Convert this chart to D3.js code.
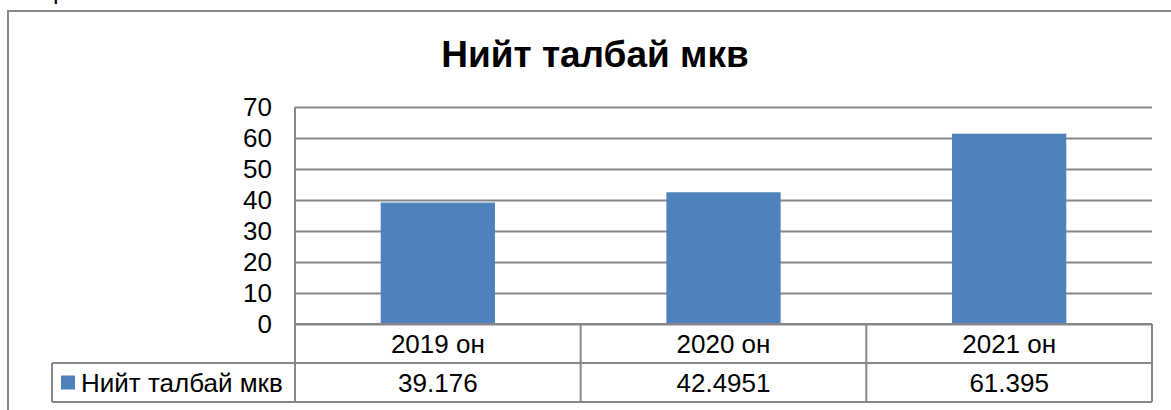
<!DOCTYPE html>
<html>
<head>
<meta charset="utf-8">
<script src="https://cdn.jsdelivr.net/npm/d3@7"></script>
<style>
  body { margin: 0; background: #fff; }
  svg { display: block; font-family: "Liberation Sans", Arial, sans-serif; }
</style>
</head>
<body>
<div id="chart"></div>
<script>
// chart data
const categories = ["2019 он", "2020 он", "2021 он"];
const values = [39.176, 42.4951, 61.395];
const valueLabels = ["39.176", "42.4951", "61.395"];
const seriesName = "Нийт талбай мкв";
const chartTitle = "Нийт талбай мкв";
const yTicks = [0, 10, 20, 30, 40, 50, 60, 70];

const width = 1171, height = 410;
const lineColor = "#878787";
const barColor = "#4F81BD";
const fontSize = "26px";

const plot = { left: 295, right: 1152, top: 107, bottom: 324 };
const rowH = 39;
const legendLeft = 52;

const svg = d3.select("#chart").append("svg")
  .attr("width", width)
  .attr("height", height);

// stray glyph from the text above the chart
svg.append("text")
  .attr("x", 53)
  .attr("y", -1)
  .style("font-size", "25px")
  .text("р");

// outer chart frame (runs off the page on the right and bottom)
svg.append("rect")
  .attr("x", 8)
  .attr("y", 11)
  .attr("width", 1200)
  .attr("height", 450)
  .attr("fill", "none")
  .attr("stroke", lineColor)
  .attr("stroke-width", 2);

svg.append("text")
  .attr("x", 595)
  .attr("y", 67)
  .attr("text-anchor", "middle")
  .style("font-size", "37px")
  .style("font-weight", "bold")
  .text(chartTitle);

const x = d3.scaleBand()
  .domain(categories)
  .range([plot.left, plot.right])
  .paddingInner(0.6)
  .paddingOuter(0.3);

const y = d3.scaleLinear()
  .domain([0, 70])
  .range([plot.bottom, plot.top]);

const yAxis = svg.append("g")
  .attr("transform", `translate(${plot.left},0)`)
  .call(d3.axisLeft(y)
    .tickValues(yTicks)
    .tickSize(-(plot.right - plot.left))
    .tickPadding(23)
    .tickFormat(d3.format("d")));

yAxis.select(".domain").remove();
yAxis.selectAll(".tick line")
  .attr("stroke", lineColor)
  .attr("stroke-width", 2);
yAxis.selectAll(".tick text")
  .attr("fill", "#000")
  .style("font-size", fontSize)
  .style("font-family", "'Liberation Sans', Arial, sans-serif");

svg.append("g")
  .selectAll("rect")
  .data(values)
  .join("rect")
  .attr("x", (d, i) => x(categories[i]))
  .attr("y", d => y(d))
  .attr("width", x.bandwidth())
  .attr("height", d => y(0) - y(d))
  .attr("fill", barColor);

// data table below the plot
const colEdges = categories.map(c => x(c) - x.step() * x.paddingOuter());
colEdges.push(plot.right);

const table = svg.append("g")
  .attr("stroke", lineColor)
  .attr("stroke-width", 2);

table.append("line")
  .attr("x1", plot.left).attr("x2", plot.right)
  .attr("y1", plot.bottom).attr("y2", plot.bottom);
[plot.bottom + rowH, plot.bottom + 2 * rowH].forEach(yy => {
  table.append("line")
    .attr("x1", legendLeft).attr("x2", plot.right)
    .attr("y1", yy).attr("y2", yy);
});
table.append("line")
  .attr("x1", plot.left).attr("x2", plot.left)
  .attr("y1", plot.top).attr("y2", plot.bottom + 2 * rowH);
table.append("line")
  .attr("x1", legendLeft).attr("x2", legendLeft)
  .attr("y1", plot.bottom + rowH).attr("y2", plot.bottom + 2 * rowH);
colEdges.slice(1).forEach(xx => {
  table.append("line")
    .attr("x1", xx).attr("x2", xx)
    .attr("y1", plot.bottom).attr("y2", plot.bottom + 2 * rowH);
});

svg.append("g")
  .selectAll("text")
  .data(categories)
  .join("text")
  .attr("x", d => x(d) + x.bandwidth() / 2)
  .attr("y", plot.bottom + rowH / 2)
  .attr("dy", "0.35em")
  .attr("text-anchor", "middle")
  .style("font-size", fontSize)
  .text(d => d);

svg.append("g")
  .selectAll("text")
  .data(valueLabels)
  .join("text")
  .attr("x", (d, i) => x(categories[i]) + x.bandwidth() / 2)
  .attr("y", plot.bottom + rowH * 1.5)
  .attr("dy", "0.35em")
  .attr("text-anchor", "middle")
  .style("font-size", fontSize)
  .text(d => d);

// legend key in the table's first cell
svg.append("rect")
  .attr("x", 61)
  .attr("y", plot.bottom + rowH * 1.5 - 7)
  .attr("width", 14)
  .attr("height", 14)
  .attr("fill", barColor);

svg.append("text")
  .attr("x", 81)
  .attr("y", plot.bottom + rowH * 1.5)
  .attr("dy", "0.35em")
  .style("font-size", fontSize)
  .text(seriesName);
</script>
</body>
</html>
